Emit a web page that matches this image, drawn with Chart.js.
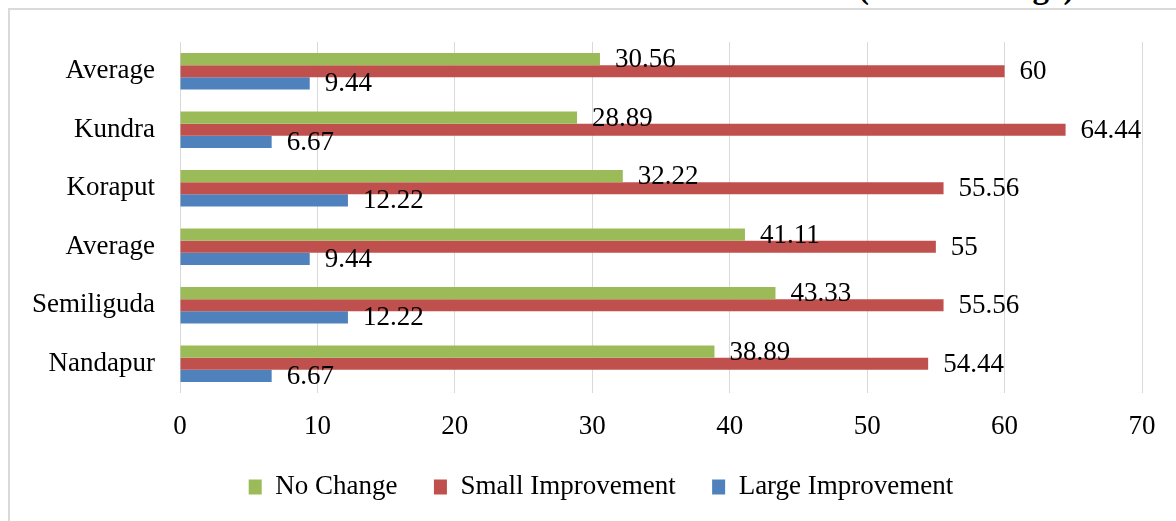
<!DOCTYPE html>
<html>
<head>
<meta charset="utf-8">
<script src="https://cdn.jsdelivr.net/npm/chart.js@4"></script>
<style>
  html, body { margin: 0; padding: 0; background: #fff; overflow: hidden; }
  #wrap { position: relative; width: 1176px; height: 521px; }
  #frame { position: absolute; left: 8px; top: 8px; width: 1300px; height: 600px;
           border-left: 2px solid #dadada; border-top: 2px solid #dadada; }
  #unit { position: absolute; left: 858px; top: -31px; line-height: 33px;
          font: bold 33px 'Liberation Serif', 'Times New Roman', serif; color: #000; white-space: nowrap; }
  canvas { position: absolute; left: 0; top: 0; }
</style>
</head>
<body>
<div id="wrap">
  <div id="frame"></div>
  <div id="unit">(In Percentage)</div>
  <canvas id="chart" width="1176" height="521"></canvas>
</div>
<script>
// ── data ──────────────────────────────────────────────────────────────────────
const categories = ['Average', 'Kundra', 'Koraput', 'Average', 'Semiliguda', 'Nandapur'];
const noChange   = [30.56, 28.89, 32.22, 41.11, 43.33, 38.89];
const smallImpr  = [60, 64.44, 55.56, 55, 55.56, 54.44];
const largeImpr  = [9.44, 6.67, 12.22, 9.44, 12.22, 6.67];
const xTicks     = [0, 10, 20, 30, 40, 50, 60, 70];

const FONT = "'Liberation Serif', 'Times New Roman', serif";

// value labels just past the end of each bar
const barLabels = {
  id: 'barLabels',
  afterDatasetsDraw(chart) {
    const ctx = chart.ctx;
    ctx.save();
    ctx.font = `27px ${FONT}`;
    ctx.fillStyle = '#000';
    ctx.textAlign = 'left';
    ctx.textBaseline = 'middle';
    chart.data.datasets.forEach((ds, i) => {
      chart.getDatasetMeta(i).data.forEach((bar, j) => {
        ctx.fillText(String(ds.data[j]), bar.x + 15, bar.y + 1);
      });
    });
    ctx.restore();
  }
};

// legend sits a bit right of the canvas centre in the original
const legendShift = {
  id: 'legendShift',
  afterLayout(chart) { chart.legend.left = 60; }
};

new Chart(document.getElementById('chart'), {
  type: 'bar',
  data: {
    labels: categories,
    datasets: [
      { label: 'No Change',         data: noChange,  backgroundColor: '#9BBB59', borderWidth: 0 },
      { label: 'Small Improvement', data: smallImpr, backgroundColor: '#C0504D', borderWidth: 0 },
      { label: 'Large Improvement', data: largeImpr, backgroundColor: '#4F81BD', borderWidth: 0 }
    ]
  },
  options: {
    indexAxis: 'y',
    responsive: false,
    animation: false,
    barPercentage: 1,
    categoryPercentage: 0.62,
    layout: { padding: { top: 42, right: 34, left: 0, bottom: 10.5 } },
    plugins: {
      legend: {
        position: 'bottom',
        labels: { boxWidth: 13, boxHeight: 15, padding: 36.5, color: '#000', font: { family: FONT, size: 27 } }
      },
      tooltip: { enabled: false }
    },
    scales: {
      x: {
        min: 0, max: 70,
        afterBuildTicks: s => { s.ticks = xTicks.map(v => ({ value: v })); },
        afterFit: s => { s.height = 44; },
        grid: { color: '#d9d9d9', lineWidth: 1, drawTicks: false },
        border: { display: false },
        ticks: { padding: 18, color: '#000', font: { family: FONT, size: 27 } }
      },
      y: {
        afterFit: s => { s.width = 180; },
        grid: { display: false, drawTicks: false },
        border: { display: false },
        ticks: { padding: 25, color: '#000', font: { family: FONT, size: 27 } }
      }
    }
  },
  plugins: [barLabels, legendShift]
});
</script>
</body>
</html>
